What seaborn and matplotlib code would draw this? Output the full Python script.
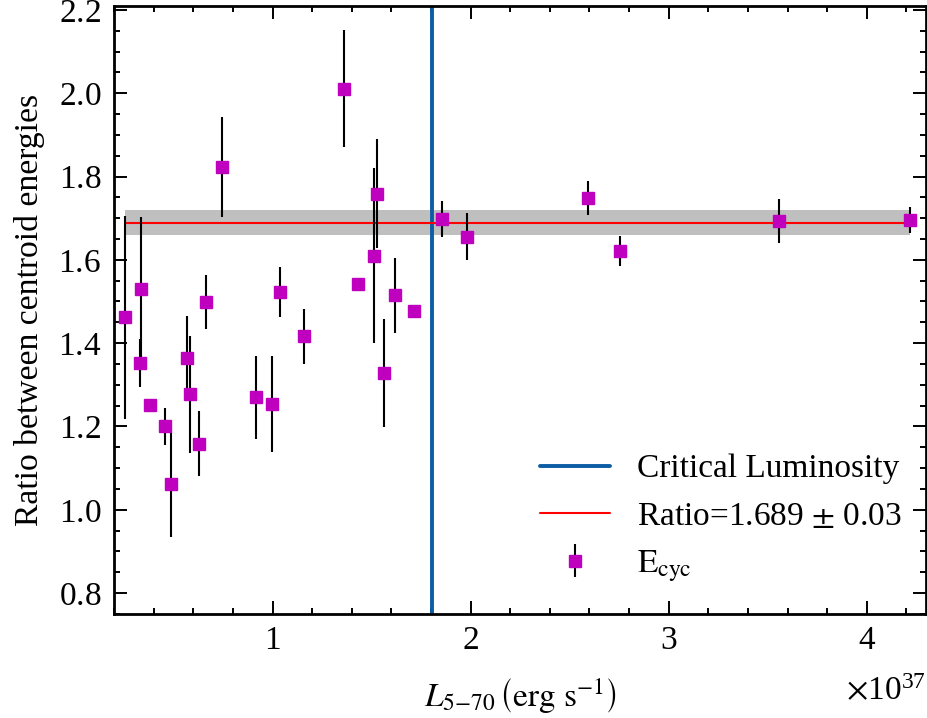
import numpy as np
import matplotlib
matplotlib.use('Agg')
import matplotlib.pyplot as plt
from matplotlib.ticker import MultipleLocator
import seaborn as sns

# luminosity in units of 1e37 erg/s and ratio of centroid energies
lum = [0.254, 0.337, 0.332, 0.382, 0.458, 0.488, 0.569, 0.584, 0.630, 0.665,
       0.746, 0.918, 0.997, 1.037, 1.160, 1.362, 1.433, 1.512, 1.527, 1.562,
       1.618, 1.714, 1.855, 1.981, 2.592, 2.753, 3.556, 4.220]
ratio = [1.462, 1.530, 1.352, 1.251, 1.200, 1.061, 1.364, 1.277, 1.159, 1.499,
         1.822, 1.270, 1.253, 1.523, 1.416, 2.011, 1.542, 1.610, 1.759, 1.329,
         1.515, 1.477, 1.699, 1.656, 1.748, 1.622, 1.693, 1.696]
ratio_err = [0.243, 0.172, 0.058, 0.0, 0.045, 0.127, 0.100, 0.140, 0.077, 0.065,
             0.120, 0.100, 0.115, 0.060, 0.067, 0.140, 0.0, 0.210, 0.131, 0.130,
             0.090, 0.0, 0.043, 0.056, 0.041, 0.036, 0.052, 0.032]

L_crit = 1.805  # x1e37
mean_ratio = 1.689
mean_err = 0.03

x = np.array(lum) * 1e37
y = np.array(ratio)
yerr = np.array(ratio_err)

sns.set_theme(style='ticks')
fs = 24
plt.rcParams.update({
    'font.family': ['Liberation Serif', 'DejaVu Serif'],
    'mathtext.fontset': 'stix',
    'axes.formatter.use_mathtext': True,
    'font.size': fs,
    'axes.labelsize': fs,
    'xtick.labelsize': fs,
    'ytick.labelsize': fs,
    'legend.fontsize': fs,
    'text.color': 'black',
    'axes.labelcolor': 'black',
    'axes.linewidth': 2.0,
    'axes.edgecolor': 'black',
    'xtick.direction': 'in',
    'ytick.direction': 'in',
    'xtick.top': True,
    'ytick.right': True,
    'xtick.major.size': 9.5,
    'ytick.major.size': 9.5,
    'xtick.minor.size': 4.5,
    'ytick.minor.size': 4.5,
    'xtick.major.width': 1.4,
    'ytick.major.width': 1.4,
    'xtick.minor.width': 1.4,
    'ytick.minor.width': 1.4,
    'xtick.major.pad': 8.5,
    'ytick.major.pad': 9.5,
    'xtick.color': 'black',
    'ytick.color': 'black',
    'legend.frameon': False,
})

fig, ax = plt.subplots(figsize=(9.28, 7.18), dpi=100)
fig.subplots_adjust(left=0.123, right=0.998, top=0.992, bottom=0.145)

ax.axvline(L_crit * 1e37, color='#0C5DA5', lw=2.8, label='Critical Luminosity')
ax.fill_between([x.min(), x.max()], mean_ratio - mean_err, mean_ratio + mean_err,
                color='grey', alpha=0.5, lw=0)
ax.plot([x.min(), x.max()], [mean_ratio, mean_ratio], color='red', lw=1.5,
        label=r'Ratio=1.689 $\pm$ 0.03')
ax.errorbar(x, y, yerr=yerr, fmt='s', color='#BF00BF', ecolor='black', elinewidth=1.5,
            markersize=9, capsize=0, label=r'$\mathrm{E_{cyc}}$')

ax.set_xlim(0.2e37, 4.3e37)
ax.set_ylim(0.75, 2.21)
ax.xaxis.set_major_locator(MultipleLocator(1e37))
ax.xaxis.set_minor_locator(MultipleLocator(0.2e37))
ax.yaxis.set_major_locator(MultipleLocator(0.2))
ax.yaxis.set_minor_locator(MultipleLocator(0.05))
ax.xaxis.OFFSETTEXTPAD = 14

ax.set_xlabel(r'$L_{5{-}70}\,\left(\mathrm{erg\ s^{-1}}\right)$', labelpad=15)
ax.set_ylabel('Ratio between centroid energies', fontsize=24.2, labelpad=9)
ax.legend(loc='lower right', labelspacing=0.5, handlelength=2.1,
          bbox_to_anchor=(1.007, 0.0))

fig.savefig('out.png', dpi=100)
